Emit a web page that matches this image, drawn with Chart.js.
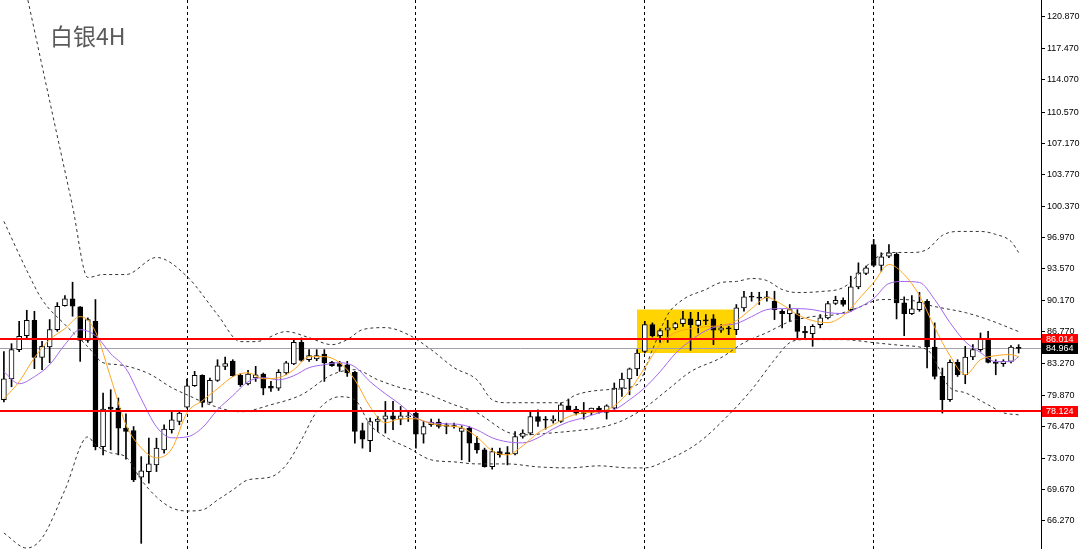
<!DOCTYPE html>
<html lang="zh">
<head>
<meta charset="UTF-8">
<title>白银4H</title>
<script src="https://cdn.jsdelivr.net/npm/chart.js"></script>
<style>
    body { margin: 0; background: #fff; }
    .wrap { position: relative; width: 1080px; height: 549px; }
    .title {
        position: absolute; left: 50px; top: 18px;
        font-family: "Noto Sans CJK SC", sans-serif; font-size: 23px; color: #5a5a5a;
    }
</style>
</head>
<body>
<div class="wrap">
    <canvas id="chart" width="1080" height="549"></canvas>
    <div class="title">白银4H</div>
</div>
<script>
// 4H candles, index 0 = leftmost bar
const opens = [
    79.39, 81.64, 84.82, 86.34, 88.00, 83.98, 85.11, 86.99, 89.60, 90.33,
    89.46, 85.83, 87.89, 74.32, 78.60, 78.49, 76.32, 76.06, 71.00, 71.61,
    72.33, 73.96, 76.14, 77.04, 78.60, 80.91, 82.03, 79.10, 81.49, 83.01,
    83.59, 82.03, 81.10, 81.75, 82.18, 80.84, 80.66, 82.29, 83.27, 85.61,
    83.73, 83.81, 84.35, 83.44, 83.30, 83.19, 82.36, 76.06, 74.97, 77.04,
    77.30, 77.66, 77.30, 77.55, 77.95, 75.67, 76.68, 76.97, 76.68, 76.57,
    75.95, 76.32, 74.69, 73.96, 72.15, 73.78, 73.67, 73.53, 75.41, 75.78,
    77.58, 77.19, 77.11, 77.04, 78.74, 78.38, 78.01, 78.01, 78.49, 78.01,
    78.49, 80.66, 81.64, 82.73, 84.63, 87.53, 86.34, 86.92, 87.18, 87.64,
    88.15, 87.46, 88.00, 88.15, 86.92, 87.18, 86.99, 89.35, 90.54, 90.45,
    90.50, 90.07, 88.98, 88.73, 88.73, 86.81, 86.56, 87.53, 88.26, 89.82,
    90.17, 89.16, 91.63, 93.07, 96.22, 93.94, 94.95, 95.14, 89.89, 88.73,
    89.16, 90.07, 85.11, 81.92, 79.39, 83.44, 82.10, 84.03, 84.82, 85.98,
    83.38, 83.30, 83.55, 85.07
];
const highs = [
    84.60, 85.47, 87.89, 89.09, 88.98, 85.72, 88.08, 89.92, 90.68, 92.13,
    89.49, 88.26, 90.25, 80.12, 80.48, 79.58, 77.87, 76.49, 73.23, 75.23,
    75.23, 76.68, 78.12, 78.12, 81.64, 82.47, 82.10, 81.75, 83.73, 84.03,
    83.73, 82.22, 82.57, 83.01, 82.29, 81.38, 82.65, 83.55, 85.98, 86.09,
    84.82, 84.82, 84.82, 83.55, 83.55, 83.55, 82.47, 76.86, 77.40, 77.58,
    79.21, 79.21, 78.67, 78.12, 78.12, 77.04, 77.30, 77.30, 76.86, 76.86,
    76.57, 76.49, 75.41, 74.15, 74.15, 74.15, 74.32, 75.95, 76.14, 78.12,
    78.31, 77.58, 77.66, 79.03, 79.47, 78.67, 79.10, 78.49, 78.67, 78.85,
    81.21, 82.29, 82.83, 84.82, 87.89, 87.72, 87.07, 88.00, 87.79, 88.98,
    88.87, 88.87, 88.62, 88.62, 87.53, 87.35, 89.71, 91.15, 91.04, 91.04,
    91.15, 91.15, 89.16, 89.71, 89.16, 87.35, 87.53, 88.62, 90.07, 90.61,
    90.43, 92.78, 94.23, 93.87, 96.77, 95.32, 96.22, 95.32, 90.54, 90.68,
    91.04, 90.25, 87.72, 82.83, 83.73, 83.73, 85.18, 85.36, 86.63, 86.81,
    83.73, 83.73, 85.26, 85.36
];
const lows = [
    79.17, 80.80, 84.60, 86.12, 82.76, 82.65, 83.41, 86.81, 89.52, 88.44,
    83.55, 85.61, 73.96, 73.42, 73.96, 73.42, 72.95, 70.52, 63.83, 70.35,
    71.61, 73.60, 75.78, 76.68, 78.49, 80.84, 78.60, 79.03, 81.38, 82.65,
    81.92, 80.84, 80.99, 81.38, 79.93, 80.29, 80.40, 82.10, 83.19, 83.55,
    83.55, 83.63, 81.38, 83.01, 82.47, 81.92, 74.69, 74.15, 73.78, 75.95,
    75.78, 76.14, 76.68, 77.04, 74.15, 74.69, 76.49, 76.32, 75.70, 76.32,
    72.88, 72.69, 73.60, 72.09, 71.87, 73.17, 72.33, 73.42, 75.23, 75.59,
    76.49, 76.21, 76.86, 76.93, 78.23, 77.76, 77.30, 77.76, 77.95, 77.30,
    78.38, 79.75, 79.93, 82.00, 84.46, 86.20, 85.61, 85.61, 86.99, 87.35,
    84.75, 86.63, 87.53, 85.36, 86.70, 86.45, 86.45, 88.98, 90.07, 89.71,
    90.07, 88.08, 87.18, 87.89, 86.09, 85.91, 85.18, 87.18, 88.15, 89.71,
    89.52, 88.98, 91.41, 92.96, 93.80, 93.32, 94.78, 88.15, 86.34, 88.62,
    88.98, 82.83, 81.64, 77.95, 79.21, 81.92, 81.13, 83.73, 84.64, 83.38,
    82.10, 83.01, 83.38, 84.46
];
const closes = [
    81.67, 84.82, 86.27, 88.00, 83.98, 85.18, 86.99, 89.52, 90.33, 89.52,
    85.83, 88.08, 74.32, 78.38, 78.38, 76.32, 75.95, 70.71, 71.68, 72.44,
    74.15, 76.21, 77.22, 77.95, 80.91, 82.03, 79.10, 81.49, 83.08, 83.30,
    82.00, 81.02, 82.18, 82.10, 80.66, 80.66, 82.36, 83.38, 85.61, 83.66,
    84.17, 84.17, 83.38, 83.08, 83.01, 82.29, 75.95, 75.12, 77.04, 77.30,
    77.66, 77.30, 77.66, 77.66, 75.67, 76.49, 76.97, 76.49, 76.49, 76.49,
    76.32, 74.69, 73.96, 72.15, 73.78, 73.42, 73.53, 75.41, 75.78, 77.58,
    77.04, 77.22, 77.30, 78.85, 78.31, 77.95, 77.87, 78.49, 78.06, 78.74,
    80.66, 81.64, 82.73, 84.46, 87.53, 86.34, 86.88, 87.18, 87.64, 88.15,
    87.53, 88.00, 87.94, 86.92, 87.18, 87.07, 89.35, 90.54, 90.50, 90.40,
    90.45, 89.16, 88.73, 89.16, 86.81, 86.63, 87.35, 88.26, 89.82, 90.17,
    89.71, 91.63, 93.15, 93.69, 93.94, 94.89, 95.32, 89.89, 88.73, 89.24,
    89.96, 85.11, 81.92, 79.39, 83.44, 82.10, 84.03, 84.82, 85.98, 83.44,
    83.33, 83.55, 85.11, 84.96
];

// moving averages (bar index -> price)
const maIdx = [
    0, 2, 4, 6, 8, 10, 12, 14, 16, 18, 20, 22, 24, 26, 28, 30, 32, 34, 36, 38,
    40, 42, 44, 46, 48, 50, 52, 54, 56, 58, 60, 62, 64, 66, 68, 70, 72, 74, 76, 78,
    80, 82, 84, 86, 88, 90, 92, 94, 96, 98, 100, 102, 104, 106, 108, 110, 112, 114, 116, 118,
    120, 122, 124, 126, 128, 130, 132, 133
];
const maFast = [
    79.50, 81.35, 83.95, 85.91, 87.10, 88.40, 86.78, 81.78, 76.68, 74.18,
    73.10, 74.07, 77.98, 79.28, 80.59, 81.89, 82.32, 81.67, 81.78, 82.65,
    84.06, 84.06, 83.41, 81.56, 78.63, 76.90, 77.33, 77.33, 76.79, 76.57,
    76.35, 75.37, 73.85, 73.42, 74.40, 75.81, 76.68, 77.55, 77.98, 78.09,
    78.74, 80.37, 82.87, 85.37, 86.67, 87.10, 87.32, 87.43, 87.97, 89.27,
    90.47, 89.71, 88.62, 87.97, 87.75, 88.51, 90.25, 92.10, 94.05, 92.96,
    90.68, 87.21, 84.17, 82.11, 83.73, 84.17, 84.28, 84.06
];
const maSlow = [
    82.43, 81.13, 81.89, 83.19, 85.37, 86.99, 86.34, 84.39, 82.76, 79.50,
    76.46, 75.27, 75.37, 76.35, 78.31, 79.83, 81.35, 81.78, 81.56, 82.00,
    82.87, 83.19, 83.41, 82.97, 81.35, 80.04, 78.85, 77.44, 76.90, 76.79,
    76.68, 76.13, 75.27, 74.83, 74.72, 75.27, 76.24, 77.00, 77.44, 77.98,
    78.31, 79.39, 80.70, 82.43, 84.39, 85.80, 86.88, 87.43, 87.64, 88.40,
    89.16, 89.27, 89.27, 89.16, 88.84, 88.73, 89.38, 90.36, 91.99, 92.21,
    92.10, 90.25, 87.75, 85.69, 84.50, 83.52, 83.52, 84.06
];

// bollinger bands: [bar index, price]
const upperBand = [
    [0, 134.77], [3, 123.26], [6, 111.77], [9, 100.35], [11, 92.64], [13, 92.96], [16, 92.96],
    [20, 94.81], [24, 92.75], [28, 88.62], [31, 85.69], [33, 85.69], [37, 86.78], [40, 86.12],
    [43, 85.36], [45, 85.91], [47, 86.99], [50, 87.21], [53, 86.45], [56, 84.82], [59, 82.87],
    [62, 81.56], [64, 79.39], [66, 79.07], [70, 79.07], [73, 79.07], [75, 79.93], [79, 80.48],
    [83, 81.02], [85, 84.82], [87, 88.62], [89, 90.25], [92, 91.34], [94, 92.10], [96, 92.21],
    [98, 92.53], [100, 92.31], [102, 91.34], [104, 91.01], [107, 91.12], [110, 91.55],
    [112, 92.96], [114, 94.59], [116, 95.35], [119, 95.35], [121, 95.68], [123, 97.20],
    [125, 97.63], [128, 97.63], [130, 97.31], [132, 96.55], [133, 95.35]
];
const midBand = [
    [0, 98.72], [3, 93.40], [5, 90.25], [8, 87.54], [11, 85.14], [13, 83.41], [15, 83.19],
    [19, 82.22], [22, 80.70], [24, 79.93], [27, 78.85], [31, 78.09], [35, 78.85], [39, 79.93],
    [43, 82.11], [46, 82.65], [49, 81.56], [52, 80.70], [55, 80.15], [59, 78.85], [62, 77.98],
    [66, 75.88], [68, 75.59], [72, 75.81], [76, 76.13], [78, 76.35], [81, 77.11], [84, 78.52],
    [87, 80.48], [90, 82.43], [94, 83.95], [97, 85.58], [100, 86.67], [103, 87.86], [106, 88.40],
    [109, 88.62], [112, 89.38], [115, 90.25], [118, 90.25], [122, 89.49], [126, 88.84],
    [129, 88.08], [133, 86.78]
];
const lowerBand = [
    [0, 64.95], [3, 63.32], [5, 64.41], [8, 69.62], [11, 75.37], [12, 74.51], [14, 73.64],
    [16, 73.20], [18, 70.71], [20, 68.86], [22, 67.67], [24, 67.34], [26, 67.45], [28, 68.53],
    [30, 69.62], [32, 70.71], [35, 71.03], [37, 72.33], [39, 75.05], [41, 78.09], [44, 79.72],
    [46, 79.39], [48, 76.68], [50, 75.37], [53, 74.18], [56, 72.88], [59, 72.66], [62, 72.44],
    [66, 72.44], [70, 72.12], [74, 72.01], [78, 72.23], [82, 72.01], [84, 72.01], [87, 72.88],
    [91, 74.72], [95, 77.76], [98, 80.48], [101, 83.73], [103, 85.58], [105, 85.91], [110, 85.91],
    [114, 85.58], [118, 85.26], [121, 84.82], [124, 80.70], [126, 80.15], [129, 78.85],
    [131, 77.98], [133, 77.76]
];

const yTicks = [120.870, 117.470, 114.070, 110.570, 107.170, 103.770, 100.370, 96.970, 93.570,
    90.170, 86.770, 83.270, 79.870, 76.470, 73.070, 69.670, 66.270];
const gridIdx = [24, 54, 84, 114];
const redLevels = [86.014, 78.124];
const lastPrice = 84.964;
const zoneIdx = [82.98, 95.95];
const zonePrice = [84.46, 89.17];

const xMin = -0.51, xMax = 135.93;
const yMin = 63.22, yMax = 122.71;

const pts = arr => arr.map(p => ({ x: p[0], y: p[1] }));

// yellow zone, price line, red levels and axis price tags
const overlays = {
    id: 'overlays',
    beforeDatasetsDraw(chart) {
        const { ctx, chartArea, scales: { x, y } } = chart;
        ctx.save();
        ctx.fillStyle = '#ffd400';
        const x0 = x.getPixelForValue(zoneIdx[0]), x1 = x.getPixelForValue(zoneIdx[1]);
        const y0 = y.getPixelForValue(zonePrice[1]), y1 = y.getPixelForValue(zonePrice[0]);
        ctx.fillRect(x0, y0, x1 - x0, y1 - y0);
        const py = Math.round(y.getPixelForValue(lastPrice)) + 0.5;
        ctx.strokeStyle = '#a0a4aa';
        ctx.lineWidth = 1;
        ctx.beginPath();
        ctx.moveTo(chartArea.left, py);
        ctx.lineTo(chartArea.right, py);
        ctx.stroke();
        ctx.restore();
    },
    afterDatasetsDraw(chart) {
        const { ctx, chartArea, scales: { y } } = chart;
        ctx.save();
        ctx.strokeStyle = '#ff0000';
        ctx.lineWidth = 2;
        redLevels.forEach(v => {
            const py = Math.round(y.getPixelForValue(v));
            ctx.beginPath();
            ctx.moveTo(chartArea.left, py);
            ctx.lineTo(chartArea.right, py);
            ctx.stroke();
        });
        ctx.restore();
    },
    afterDraw(chart) {
        const { ctx, chartArea, scales: { y } } = chart;
        const tag = (v, bg) => {
            const py = Math.round(y.getPixelForValue(v));
            ctx.fillStyle = bg;
            ctx.fillRect(chartArea.right + 1, py - 5, 36, 11);
            ctx.fillStyle = '#ffffff';
            ctx.font = '9px "Liberation Sans"';
            ctx.textBaseline = 'middle';
            ctx.fillText(v.toFixed(3), chartArea.right + 5, py + 0.5);
        };
        ctx.save();
        tag(redLevels[0], '#ff0000');
        tag(lastPrice, '#000000');
        tag(redLevels[1], '#ff0000');
        ctx.restore();
    }
};

const bodyColors = opens.map((o, i) => (closes[i] - o >= 0.08 ? '#ffffff' : '#000000'));

new Chart(document.getElementById('chart'), {
    type: 'bar',
    data: {
        datasets: [
            {
                type: 'line', label: 'fast', order: 1,
                data: maIdx.map((v, i) => ({ x: v, y: maFast[i] })),
                borderColor: '#ffa61f', borderWidth: 1, pointRadius: 0,
                cubicInterpolationMode: 'monotone'
            },
            {
                type: 'line', label: 'slow', order: 2,
                data: maIdx.map((v, i) => ({ x: v, y: maSlow[i] })),
                borderColor: '#a366f0', borderWidth: 1, pointRadius: 0,
                cubicInterpolationMode: 'monotone'
            },
            ...[upperBand, midBand, lowerBand].map((b, k) => ({
                type: 'line', label: 'band' + k, order: 3,
                data: pts(b),
                borderColor: '#333333', borderWidth: 1, borderDash: [3, 3], pointRadius: 0,
                cubicInterpolationMode: 'monotone'
            })),
            {
                label: 'body', order: 4, grouped: false,
                data: opens.map((o, i) => ({ x: i, y: [o, closes[i]] })),
                backgroundColor: bodyColors, borderColor: '#000000', borderWidth: 1,
                borderSkipped: false, barThickness: 5, minBarLength: 1
            },
            {
                label: 'wick', order: 5, grouped: false,
                data: highs.map((h, i) => ({ x: i, y: [lows[i], h] })),
                backgroundColor: '#000000', borderWidth: 0, barThickness: 1
            }
        ]
    },
    options: {
        responsive: false,
        maintainAspectRatio: false,
        animation: false,
        devicePixelRatio: 1,
        events: [],
        layout: { padding: 0 },
        plugins: { legend: { display: false }, tooltip: { enabled: false } },
        scales: {
            x: {
                type: 'linear', min: xMin, max: xMax, offset: false,
                afterBuildTicks: s => { s.ticks = gridIdx.map(v => ({ value: v })); },
                afterFit: s => { s.height = 0; s.paddingLeft = 0; s.paddingRight = 0; },
                ticks: { display: false },
                grid: { color: '#000000', lineWidth: 1, drawTicks: false, offset: false },
                border: { display: false, dash: [3, 3] }
            },
            y: {
                position: 'right', min: yMin, max: yMax,
                afterBuildTicks: s => { s.ticks = yTicks.map(v => ({ value: v })); },
                afterFit: s => { s.width = 39; s.paddingTop = 0; s.paddingBottom = 0; },
                ticks: {
                    color: '#000000', padding: 2,
                    font: { family: 'Liberation Sans', size: 9 },
                    callback: v => v.toFixed(3)
                },
                grid: { drawOnChartArea: false, drawTicks: true, tickLength: 4, color: '#000000' },
                border: { display: true, color: '#000000', width: 1 }
            }
        }
    },
    plugins: [overlays]
});
</script>
</body>
</html>
